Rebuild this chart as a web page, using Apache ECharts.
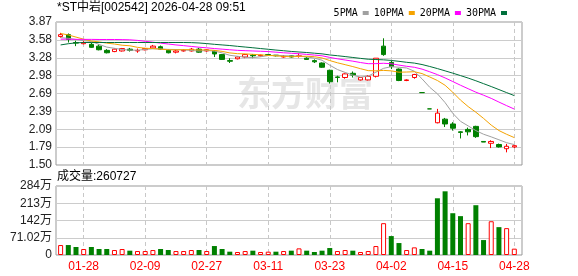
<!DOCTYPE html>
<html><head><meta charset="utf-8">
<script src="https://cdn.jsdelivr.net/npm/echarts@6/dist/echarts.min.js"></script>
<style>html,body{margin:0;padding:0;background:#fff}#c{width:578px;height:276px}</style>
</head><body><div id="c"></div>
<script>
const dates = ['01-23','01-26','01-27','01-28','01-29','01-30','02-02','02-03','02-04','02-05',
'02-06','02-09','02-10','02-11','02-12','02-13','02-24','02-25','02-26','02-27',
'03-02','03-03','03-04','03-05','03-06','03-09','03-10','03-11','03-12','03-13',
'03-16','03-17','03-18','03-19','03-20','03-23','03-24','03-25','03-26','03-27',
'03-30','03-31','04-01','04-02','04-03','04-07','04-08','04-09','04-10','04-13',
'04-14','04-15','04-16','04-17','04-20','04-21','04-22','04-23','04-27','04-28'];
const opens = [3.63,3.66,3.53,3.51,3.50,3.47,3.40,3.38,3.39,3.42,
3.39,3.41,3.44,3.46,3.40,3.37,3.39,3.39,3.42,3.39,
3.39,3.33,3.23,3.26,3.29,3.32,3.31,3.33,3.32,3.29,
3.31,3.30,3.27,3.23,3.19,3.07,2.96,2.95,3.02,2.91,
2.91,2.97,3.47,3.20,3.09,2.90,2.95,2.70,2.43,2.20,
2.26,2.18,2.05,2.09,2.14,1.89,1.86,1.84,1.77,1.80];
const closes = [3.66,3.58,3.52,3.53,3.45,3.41,3.36,3.42,3.43,3.40,
3.40,3.43,3.47,3.42,3.36,3.39,3.40,3.42,3.37,3.41,
3.34,3.25,3.22,3.29,3.33,3.31,3.32,3.32,3.31,3.30,
3.29,3.31,3.25,3.21,3.12,2.88,2.95,3.01,2.99,2.95,
2.97,3.27,3.33,3.13,2.90,2.91,3.00,2.70,2.43,2.36,
2.18,2.11,2.04,2.05,1.97,1.88,1.89,1.80,1.81,1.82];
const lows = [3.61,3.53,3.47,3.50,3.44,3.40,3.35,3.37,3.38,3.38,
3.36,3.40,3.43,3.41,3.35,3.35,3.38,3.38,3.36,3.38,
3.29,3.24,3.19,3.25,3.27,3.27,3.30,3.31,3.30,3.28,
3.28,3.28,3.24,3.19,3.11,2.85,2.87,2.93,2.95,2.90,
2.90,2.95,3.31,3.09,2.89,2.89,2.93,2.70,2.43,2.19,
2.13,2.07,1.94,1.99,1.95,1.88,1.78,1.79,1.71,1.78];
const highs = [3.69,3.68,3.56,3.56,3.53,3.50,3.42,3.43,3.44,3.44,
3.43,3.44,3.49,3.48,3.42,3.42,3.42,3.44,3.44,3.42,
3.40,3.34,3.27,3.30,3.34,3.34,3.33,3.34,3.32,3.32,
3.32,3.35,3.29,3.25,3.20,3.08,2.98,3.02,3.05,2.96,
2.99,3.27,3.60,3.23,3.10,2.92,3.01,2.70,2.43,2.43,
2.28,2.21,2.06,2.12,2.15,1.89,1.91,1.855,1.85,1.83];
const volumes = [410000,410000,330000,246000,330000,246000,246000,205000,246000,178000,
164000,164000,205000,246000,205000,164000,164000,205000,205000,164000,
369000,246000,137000,123000,164000,178000,123000,137000,137000,164000,
178000,273000,178000,123000,178000,287000,164000,205000,178000,123000,
164000,369000,1310000,779000,492000,205000,314000,246000,178000,2335000,
2622000,1720000,1600000,1310000,2050000,615000,1390000,1147000,1106000,260727];
const volUp = [1,0,0,1,0,0,0,1,1,0, 1,1,1,0,0,1,1,1,0,1, 0,0,0,1,1,0,1,1,0,1,
0,1,0,0,0,0,1,1,0,1, 1,1,1,0,0,1,1,0,0,0, 0,0,0,1,0,0,1,0,1,1];
const ma5 = [3.61,3.60,3.58,3.56,3.548,3.498,3.454,3.434,3.414,3.404,
3.402,3.416,3.426,3.424,3.416,3.414,3.408,3.398,3.388,3.398,
3.388,3.358,3.318,3.302,3.286,3.28,3.294,3.314,3.318,3.312,
3.308,3.306,3.292,3.272,3.236,3.154,3.082,3.034,2.99,2.956,
2.974,3.038,3.102,3.13,3.12,3.108,3.054,2.928,2.788,2.68,
2.534,2.356,2.224,2.148,2.07,2.01,1.966,1.918,1.87,1.838];
const ma10 = [3.68,3.655,3.62,3.585,3.555,3.54,3.52,3.505,3.485,3.476,
3.45,3.435,3.43,3.419,3.41,3.408,3.412,3.412,3.406,3.407,
3.401,3.383,3.358,3.345,3.342,3.334,3.326,3.316,3.31,3.299,
3.294,3.30,3.303,3.295,3.274,3.231,3.194,3.163,3.131,3.096,
3.064,3.06,3.068,3.06,3.038,3.041,3.046,3.015,2.959,2.90,
2.821,2.705,2.576,2.468,2.375,2.272,2.161,2.071,2.009,1.954];
const ma20 = [3.585,3.585,3.583,3.582,3.582,3.58,3.58,3.58,3.578,3.575,
3.565,3.55,3.535,3.52,3.505,3.49,3.478,3.465,3.452,3.442,
3.43,3.42,3.41,3.40,3.395,3.39,3.385,3.38,3.37,3.36,
3.352,3.344,3.333,3.322,3.31,3.283,3.26,3.24,3.221,3.198,
3.179,3.18,3.186,3.178,3.156,3.136,3.12,3.089,3.045,2.998,
2.943,2.883,2.822,2.764,2.707,2.657,2.604,2.543,2.484,2.427];
const ma30 = [3.49,3.51,3.525,3.53,3.53,3.53,3.53,3.53,3.53,3.53,
3.53,3.53,3.53,3.53,3.53,3.53,3.53,3.528,3.522,3.512,
3.50,3.49,3.48,3.467,3.455,3.443,3.43,3.418,3.405,3.394,
3.382,3.373,3.364,3.353,3.342,3.324,3.311,3.297,3.282,3.267,
3.253,3.248,3.243,3.233,3.218,3.202,3.189,3.165,3.133,3.098,
3.06,3.022,2.982,2.941,2.896,2.848,2.80,2.75,2.70,2.65];
const priceTicks = [1.50,1.79625,2.0925,2.38875,2.685,2.98125,3.2775,3.57375,3.87];
const priceTickLabels = ['1.50','1.79','2.09','2.39','2.69','2.98','3.28','3.58','3.87'];
const volTicks = [0,710200,1420400,2130600,2840800];
const volTickLabels = ['0','71.02万','142万','213万','284万'];
const dateTickIdx = [3,11,19,27,35,43,51,59];

function nearestLabel(ticks, labels, v){
  let b=0; for(let i=1;i<ticks.length;i++){ if(Math.abs(ticks[i]-v)<Math.abs(ticks[b]-v)) b=i; }
  return labels[b];
}
const RED='#ff0000', GREEN='#008000';
const sans = '"Liberation Sans","Noto Sans CJK SC",sans-serif';
const chart = echarts.init(document.getElementById('c'), null, {renderer:'canvas'});
const xBase = (gi, showLabel) => ({
  type:'value', gridIndex:gi, min:-0.6, max:60,
  axisLine:{show:false},
  axisTick:{show:false, customValues:dateTickIdx},
  axisLabel:{show:showLabel, customValues:dateTickIdx, color:RED, fontSize:12, fontFamily:sans, margin:6,
    formatter:v=>dates[Math.round(v)]},
  splitLine:{show:true, lineStyle:{color:'#c8c8c8', type:[4,3], width:1}}
});
const maSeries = (name, arr, color) => ({
  name, type:'line', xAxisIndex:0, yAxisIndex:0, data:arr.map((v,i)=>[i,v]),
  symbol:'none', showSymbol:false, lineStyle:{width:1, color}, itemStyle:{color}, z:3, silent:true
});
chart.setOption({
  animation:false,
  backgroundColor:'#fff',
  legend:{data:['5PMA','10PMA','20PMA','30PMA'], right:66, top:3, align:'right', icon:'rect',
    itemWidth:6, itemHeight:4, itemGap:5, selectedMode:false,
    textStyle:{fontFamily:'"DejaVu Sans Mono",monospace', fontSize:10, color:'#000'}},
  graphic:[
    {type:'text', left:57, top:2, style:{text:'*ST中岩[002542] 2026-04-28 09:51', font:'12px '+sans, fill:'#000'}},
    {type:'text', left:57, top:171, style:{text:'成交量:260727', font:'12px '+sans, fill:'#000'}},
    {type:'text', left:237, top:76, z:-10, style:{text:'东方财富', font:'bold 34px "Noto Sans CJK SC"', fill:'#e6e6e6'}}
  ],
  grid:[
    {left:56, right:56, top:22, height:143, show:true, borderColor:'#999', borderWidth:1},
    {left:56, right:56, top:186, height:69, show:true, borderColor:'#999', borderWidth:1}
  ],
  xAxis:[xBase(0,false), xBase(1,true)],
  yAxis:[
    {type:'value', gridIndex:0, min:1.5, max:3.87,
     axisLine:{show:false}, axisTick:{show:false, customValues:priceTicks},
     axisLabel:{customValues:priceTicks, color:'#222', fontSize:12, fontFamily:sans, margin:4,
       formatter:v=>nearestLabel(priceTicks, priceTickLabels, v)},
     splitLine:{show:true, lineStyle:{color:'#cccccc', width:1}}},
    {type:'value', gridIndex:1, min:0, max:2840800, interval:710200,
     axisLine:{show:false}, axisTick:{show:false},
     axisLabel:{color:'#222', fontSize:12, fontFamily:sans, margin:4,
       formatter:v=>nearestLabel(volTicks, volTickLabels, v)},
     splitLine:{show:true, lineStyle:{color:'#cccccc', width:1}}}
  ],
  series:[
    {type:'candlestick', xAxisIndex:0, yAxisIndex:0, barWidth:5, z:2,
     data:dates.map((d,i)=>[i, opens[i], closes[i], lows[i], highs[i]]),
     encode:{x:0, y:[1,2,3,4]},
     itemStyle:{color:'#fff', color0:GREEN, borderColor:RED, borderColor0:GREEN, borderWidth:1}},
    maSeries('5PMA', ma5, '#a0a0a0'),
    maSeries('10PMA', ma10, '#f5a300'),
    maSeries('20PMA', ma20, '#ff00ff'),
    maSeries('30PMA', ma30, '#00703c'),
    {type:'bar', xAxisIndex:1, yAxisIndex:1, barWidth:5,
     data:volumes.map((v,i)=>({value:[i,v], itemStyle: volUp[i] ? {color:'#fff', borderColor:RED, borderWidth:1} : {color:GREEN}}))}
  ]
});
</script></body></html>
